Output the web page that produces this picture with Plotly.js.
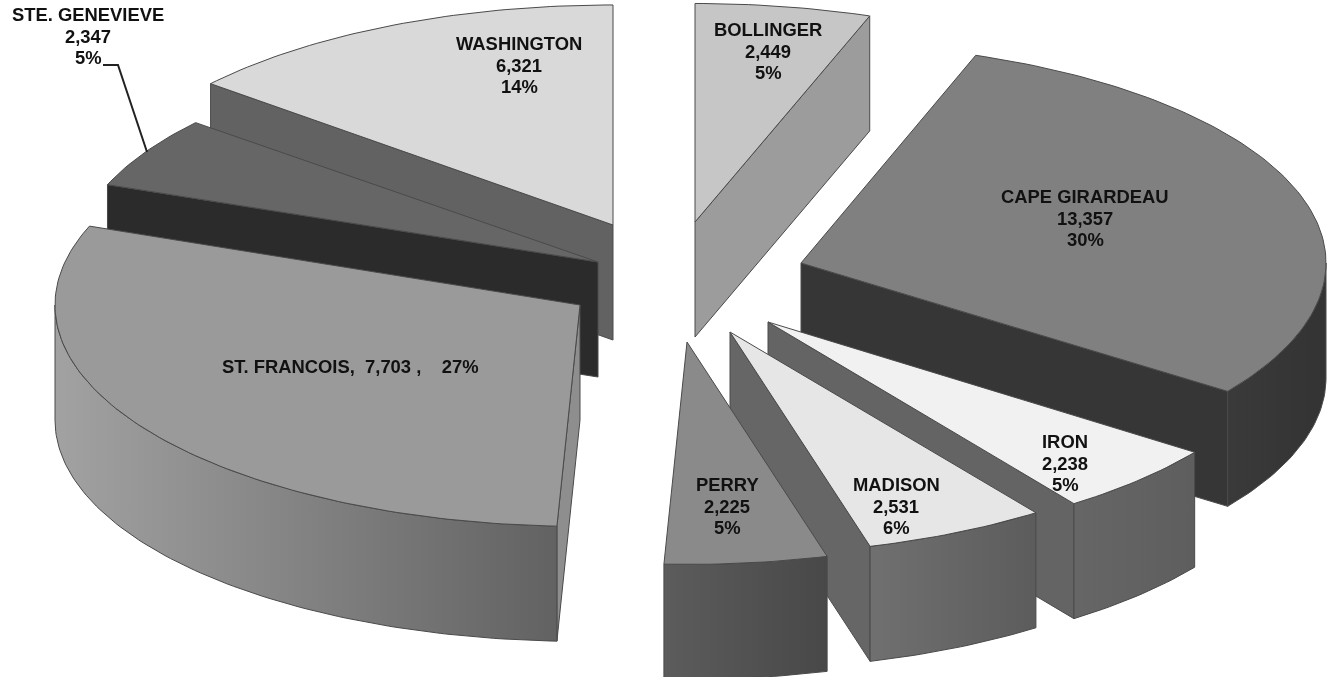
<!DOCTYPE html>
<html>
<head>
<meta charset="utf-8">
<script src="https://cdn.plot.ly/plotly-3.0.1.min.js"></script>
<style>html,body{margin:0;padding:0;background:#fff}#chart{width:1330px;height:677px;filter:blur(0.45px)}</style>
</head>
<body>
<div id="chart"></div>
<script>
// ---- data (clockwise from 12 o'clock) ----
var counties = ["BOLLINGER","CAPE GIRARDEAU","IRON","MADISON","PERRY","ST. FRANCOIS","STE. GENEVIEVE","WASHINGTON"];
var valueLabels = ["2,449","13,357","2,238","2,531","2,225","7,703","2,347","6,321"];
var percentLabels = ["5%","30%","5%","6%","5%","27%","5%","14%"];
var drawnShares = [5.4,29.5,5.2,5.6,5,30.1,5.3,13.9];

// ---- projection / explosion of the pie (styling, not data) ----
var RX = 525, RY = 217, DEPTH = 115;
var pullCentreX = [695,801,768,730,687,580,598,613];
var pullCentreY = [222,263,322,332,342,305,262,225];
var ryScale = [1.007,1.015,1.03,1.025,1.025,1.02,1,1.014];
var topColor = ["#c6c6c6","#808080","#f1f1f1","#e6e6e6","#8a8a8a","#9a9a9a","#666666","#d9d9d9"];
var cutColor = ["#9c9c9c","#363636","#646464","#666666","#666666","#8e8e8e","#2b2b2b","#626262"];
var wallStops = [
  ["#a0a0a0","#a0a0a0"],["#3a3a3a","#333333"],["#666666","#5e5e5e"],["#707070","#5c5c5c"],
  ["#5c5c5c","#484848"],["#a2a2a2","#626262"],["#2b2b2b","#2b2b2b"],["#626262","#626262"]
];
var labelAtX = [768,1085,1065,896,727,350,88,519];
var labelAtY = [51,218,463,506,506,366,36,65];
var LINE_GAP = 21.5;
var leaderX = [103,118,147];
var leaderY = [65,65,152];
var EDGE = "#4a4a4a";

function rad(d){return d*Math.PI/180;}
function pt(i,deg,drop){
  return [pullCentreX[i]+RX*Math.sin(rad(deg)),
          pullCentreY[i]-RY*ryScale[i]*Math.cos(rad(deg))+(drop||0)];
}
function poly(pts,fill,grad){
  var t = {type:"scatter",mode:"lines",x:pts.map(function(p){return p[0];}),y:pts.map(function(p){return p[1];}),
    fill:"toself",fillcolor:fill,line:{color:EDGE,width:1},hoverinfo:"skip",showlegend:false};
  if(grad){t.fillgradient={type:"horizontal",colorscale:[[0,grad[0]],[1,grad[1]]]};}
  return t;
}
function arc(i,a,b,drop){
  var out=[],n=Math.max(2,Math.ceil(Math.abs(b-a)));
  for(var k=0;k<=n;k++){out.push(pt(i,a+(b-a)*k/n,drop));}
  return out;
}

var total = drawnShares.reduce(function(s,v){return s+v;},0);
var starts=[],ends=[],run=0;
drawnShares.forEach(function(v){starts.push(run);run+=v/total*360;ends.push(run);});

function sliceTraces(i){
  var a=starts[i],b=ends[i],A=[pullCentreX[i],pullCentreY[i]],out=[];
  var A2=[A[0],A[1]+DEPTH];
  if(a>180){var s=pt(i,a),s2=pt(i,a,DEPTH);out.push(poly([A,s,s2,A2,A],cutColor[i]));}
  if(b<180){var e=pt(i,b),e2=pt(i,b,DEPTH);out.push(poly([A,e,e2,A2,A],cutColor[i]));}
  var fa=Math.max(a,90),fb=Math.min(b,270);
  if(fb>fa){
    var wall=arc(i,fa,fb,0).concat(arc(i,fb,fa,DEPTH));
    wall.push(wall[0]);
    out.push(poly(wall,wallStops[i][0],wallStops[i]));
  }
  var top=[A].concat(arc(i,a,b,0));top.push(A);
  out.push(poly(top,topColor[i]));
  return out;
}

// painter's order: back to front
var order=[7,6,5,0,1,2,3,4];
var traces=[];
order.forEach(function(i){traces=traces.concat(sliceTraces(i));});
traces.push({type:"scatter",mode:"lines",x:leaderX,y:leaderY,line:{color:"#222222",width:2},hoverinfo:"skip",showlegend:false});

var annotations=[];
function addLabel(i,text,y){
  annotations.push({x:labelAtX[i],y:y,xref:"x",yref:"y",text:text,showarrow:false,align:"center",
    xanchor:"center",yanchor:"middle",font:{family:"'Liberation Sans',Arial,sans-serif",size:18.4,color:"#111111",weight:700}});
}
counties.forEach(function(name,i){
  if(name==="ST. FRANCOIS"){
    addLabel(i,name+",\u00a0\u00a0"+valueLabels[i]+"\u00a0,\u00a0\u00a0\u00a0\u00a0"+percentLabels[i],labelAtY[i]);
  }else{
    addLabel(i,name,labelAtY[i]-LINE_GAP);
    addLabel(i,valueLabels[i],labelAtY[i]);
    addLabel(i,percentLabels[i],labelAtY[i]+LINE_GAP);
  }
});

Plotly.newPlot("chart",traces,{
  width:1330,height:677,margin:{l:0,r:0,t:0,b:0},
  paper_bgcolor:"#ffffff",plot_bgcolor:"#ffffff",showlegend:false,
  xaxis:{range:[0,1330],visible:false,fixedrange:true},
  yaxis:{range:[677,0],visible:false,fixedrange:true},
  annotations:annotations
},{displayModeBar:false,staticPlot:true});
</script>
</body>
</html>
